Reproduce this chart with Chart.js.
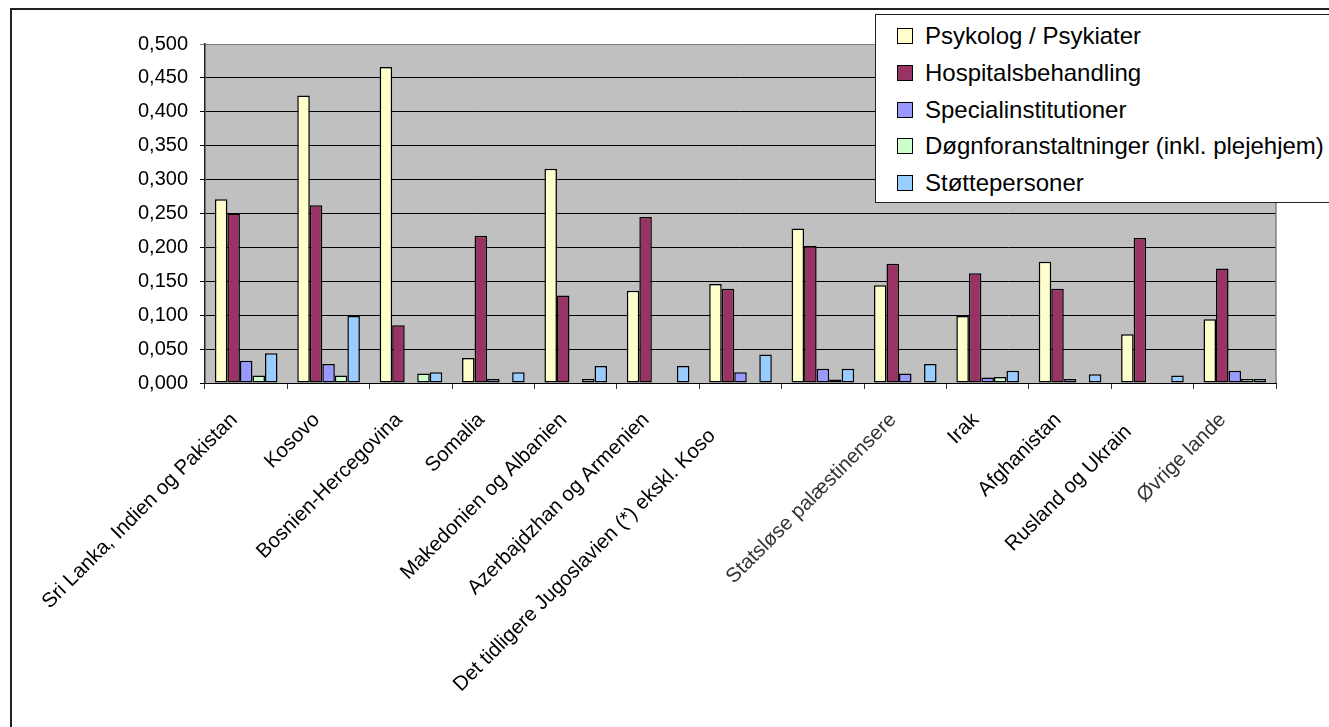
<!DOCTYPE html>
<html>
<head>
<meta charset="utf-8">
<script src="https://cdn.jsdelivr.net/npm/chart.js@4.4.1/dist/chart.umd.min.js"></script>
<style>
  html, body { margin: 0; padding: 0; background: #fff; overflow: hidden; }
  #wrap { position: relative; width: 1329px; height: 727px; overflow: hidden; }
  #frame { position: absolute; left: 10px; top: 8px; width: 1400px; height: 800px;
           border-left: 2px solid #222; border-top: 2px solid #222; }
  #chart { position: absolute; left: 0; top: 0; }
  #legend { position: absolute; left: 875px; top: 14px; width: 520px; height: 187px;
            border: 1.5px solid #222; background: #fff;
            font-family: "Liberation Sans", Arial, sans-serif; font-size: 24px; color: #000; }
  .item { position: absolute; left: 21px; height: 30px; display: flex; align-items: center; white-space: nowrap; }
  .sw { width: 14px; height: 14px; border: 1px solid #000; margin-right: 12px; flex: none; }
</style>
</head>
<body>
<div id="wrap">
  <div id="frame"></div>
  <canvas id="chart" width="1329" height="727"></canvas>
  <div id="legend"></div>
</div>
<script>
// Country groups along the x axis (trailing spaces keep the clipped labels in place)
const categories = [
  'Sri Lanka, Indien og Pakistan',
  'Kosovo',
  'Bosnien-Hercegovina',
  'Somalia',
  'Makedonien og Albanien',
  'Azerbajdzhan og Armenien',
  'Det tidligere Jugoslavien (*) ekskl. Koso    ',
  '',
  'Statsløse palæstinensere',
  'Irak',
  'Afghanistan',
  'Rusland og Ukrain   ',
  'Øvrige lande'
];

const seriesNames = [
  'Psykolog / Psykiater',
  'Hospitalsbehandling',
  'Specialinstitutioner',
  'Døgnforanstaltninger (inkl. plejehjem)',
  'Støttepersoner'
];

const psykolog   = [0.271, 0.424, 0.466, 0.037, 0.316, 0.136, 0.146, 0.228, 0.144, 0.099, 0.179, 0.072, 0.094];
const hospital   = [0.250, 0.262, 0.085, 0.217, 0.129, 0.245, 0.139, 0.202, 0.176, 0.162, 0.139, 0.214, 0.169];
const special    = [0.033, 0.028, null,  0.006, null,  null,  0.016, 0.021, 0.014, 0.008, 0.006, null,  0.018];
const doegn      = [0.011, 0.011, 0.014, null,  0.006, null,  null,  0.005, null,  0.009, null,  null,  0.006];
const stoette    = [0.044, 0.099, 0.016, 0.016, 0.025, 0.025, 0.042, 0.021, 0.028, 0.018, 0.013, 0.011, 0.006];

const yTickStep = 0.05;
const yMax = 0.5;

const colors = ['#FFFFCC', '#993366', '#9999FF', '#CCFFCC', '#99CCFF'];
const seriesValues = [psykolog, hospital, special, doegn, stoette];

const FONT = '"Liberation Sans", Arial, sans-serif';

const datasets = seriesValues.map((vals, i) => ({
  label: seriesNames[i],
  data: vals,
  backgroundColor: colors[i],
  borderColor: '#000',
  borderWidth: 1.5,
  borderSkipped: false,
  categoryPercentage: 0.76,
  barPercentage: 1.0
}));

// grey plot area with a grey frame on the right
const plotArea = {
  id: 'plotArea',
  beforeDraw(chart) {
    const { ctx, chartArea: a } = chart;
    ctx.save();
    ctx.fillStyle = '#C0C0C0';
    ctx.fillRect(a.left, a.top, a.right - a.left, a.bottom - a.top);
    ctx.restore();
  },
  beforeDatasetsDraw(chart) {
    const { ctx, chartArea: a } = chart;
    ctx.save();
    ctx.strokeStyle = '#808080';
    ctx.lineWidth = 1.5;
    ctx.beginPath();
    ctx.moveTo(a.right, a.top);
    ctx.lineTo(a.right, a.bottom);
    ctx.stroke();
    ctx.restore();
  }
};

new Chart(document.getElementById('chart'), {
  type: 'bar',
  data: { labels: categories, datasets },
  options: {
    responsive: false,
    animation: false,
    devicePixelRatio: 1,
    layout: { padding: { left: 0, top: 44, right: 53, bottom: 0 } },
    plugins: {
      legend: { display: false },
      tooltip: { enabled: false }
    },
    scales: {
      x: {
        grid: {
          offset: true,
          drawOnChartArea: false,
          drawTicks: true,
          tickLength: 6,
          color: '#333'
        },
        border: { color: '#000', width: 1 },
        ticks: {
          autoSkip: false,
          minRotation: 45,
          maxRotation: 45,
          padding: 19,
          labelOffset: -12,
          font: { family: FONT, size: 20.5 },
          color: (c) => (c.index === 8 || c.index === 12) ? '#333' : '#000'
        },
        afterFit(scale) { scale.height = 344; }
      },
      y: {
        min: 0,
        max: yMax,
        grid: {
          color: (c) => (c.tick && Math.abs(c.tick.value - yMax) < 1e-9) ? '#808080' : '#000',
          lineWidth: 1,
          tickLength: 5,
          drawTicks: true
        },
        border: { color: '#222', width: 1.5 },
        ticks: {
          stepSize: yTickStep,
          padding: 12,
          font: { family: FONT, size: 20 },
          color: '#000',
          callback: (v) => Number(v).toFixed(3).replace('.', ',')
        },
        afterFit(scale) { scale.width = 205; }
      }
    }
  },
  plugins: [plotArea]
});

// legend box built from the dataset names and colours
const legend = document.getElementById('legend');
seriesNames.forEach((name, i) => {
  const item = document.createElement('div');
  item.className = 'item';
  item.style.top = (6 + i * 36.8) + 'px';
  const sw = document.createElement('span');
  sw.className = 'sw';
  sw.style.background = colors[i];
  const tx = document.createElement('span');
  tx.textContent = name;
  item.appendChild(sw);
  item.appendChild(tx);
  legend.appendChild(item);
});
</script>
</body>
</html>
